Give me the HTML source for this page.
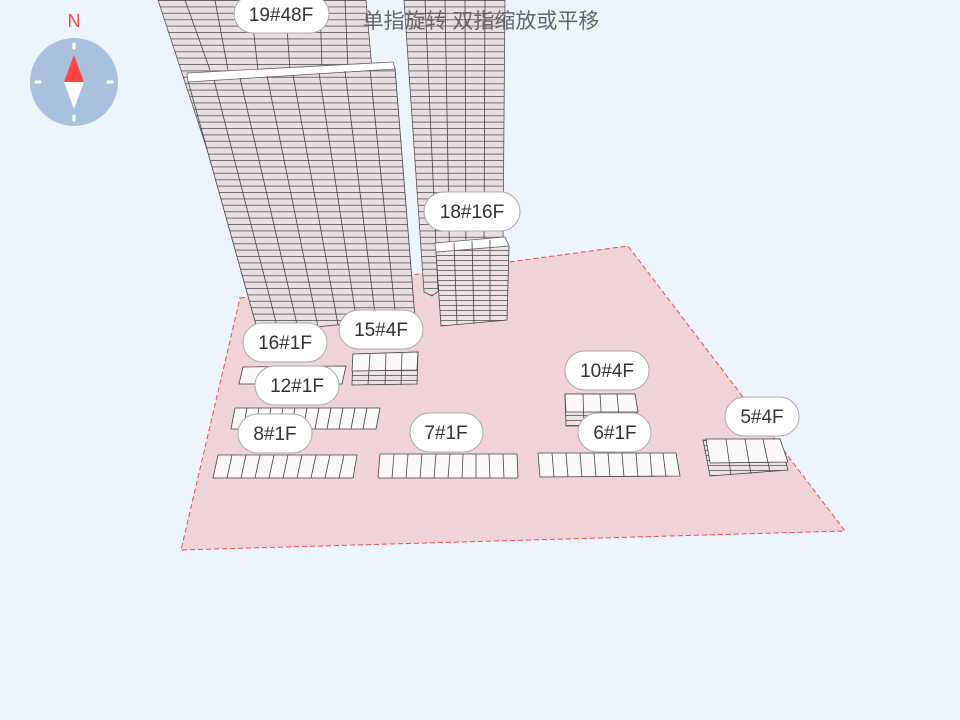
<!DOCTYPE html>
<html><head><meta charset="utf-8"><style>
html,body{margin:0;padding:0;background:#ecf5fe;}
svg{display:block}
.lb rect{fill:#fff;stroke:#aaa;stroke-width:1}
.lb text{font-family:"Liberation Sans",sans-serif;font-size:19px;fill:#333;text-anchor:middle}
.b{fill:#fbf9fa;stroke:#444;stroke-width:0.8}
.c{stroke:#444;stroke-width:0.8}
</style></head><body>
<svg width="960" height="720" viewBox="0 0 960 720" xmlns="http://www.w3.org/2000/svg">
<defs>
<pattern id="fl" width="10" height="6.4" patternUnits="userSpaceOnUse">
<rect width="10" height="6.4" fill="#e9dee2"/>
<line x1="0" y1="0.5" x2="10" y2="0.5" stroke="#555" stroke-width="0.8"/>
</pattern>
<pattern id="fs" width="10" height="5" patternUnits="userSpaceOnUse">
<rect width="10" height="5" fill="#ece3e6"/>
<line x1="0" y1="0.5" x2="10" y2="0.5" stroke="#555" stroke-width="0.8"/>
</pattern>
</defs>
<rect width="960" height="720" fill="#ecf5fe"/>
<polygon points="240,298 628,246 845,531 181,550" fill="#efd3d9" stroke="#f04a4a" stroke-width="1" stroke-dasharray="5,3"/>
<!-- right tower -->
<polygon points="404,0 505,0 503,240 432,296 424,292" fill="url(#fl)" stroke="#555" stroke-width="0.8"/>
<g class="c"><line x1="425" y1="0" x2="438" y2="290"/><line x1="445" y1="0" x2="450" y2="280"/><line x1="465" y1="0" x2="466" y2="260"/><line x1="485" y1="0" x2="484" y2="250"/></g>
<!-- back tower 19 -->
<polygon points="158,0 366,0 372,70 260,330 240,250" fill="url(#fl)" stroke="#555" stroke-width="0.8"/>
<g class="c"><line x1="185" y1="0" x2="210" y2="70"/><line x1="215" y1="0" x2="228" y2="70"/><line x1="250" y1="0" x2="258" y2="70"/><line x1="285" y1="0" x2="290" y2="70"/><line x1="320" y1="0" x2="322" y2="70"/><line x1="345" y1="0" x2="348" y2="70"/></g>
<!-- front tower -->
<polygon points="188,81 395,68 415,318 258,332" fill="url(#fl)" stroke="#444" stroke-width="0.8"/>
<polygon points="187,73 393,62 395,69 188,82" fill="#fff" stroke="#666" stroke-width="0.8"/>
<g class="c">
<line x1="214" y1="80" x2="278" y2="330"/><line x1="240" y1="78" x2="298" y2="329"/><line x1="267" y1="76" x2="318" y2="327"/><line x1="293" y1="75" x2="338" y2="325"/><line x1="319" y1="73" x2="357" y2="324"/><line x1="345" y1="71" x2="376" y2="322"/><line x1="370" y1="70" x2="396" y2="320"/>
</g>
<!-- 18# -->
<polygon points="436,252 509,246 507,320 441,326" fill="url(#fs)" stroke="#444" stroke-width="0.8"/>
<polygon points="435,243 505,237 509,246 436,252" fill="#fff" stroke="#666" stroke-width="0.8"/>
<g class="c"><line x1="454" y1="243" x2="457" y2="324"/><line x1="472" y1="241" x2="474" y2="323"/><line x1="490" y1="240" x2="490" y2="321"/></g>
<!-- 16# -->
<polygon points="243,367 346,366 342,384 239,384" class="b"/>
<!-- 15# -->
<polygon points="353,354 418,352 417,384 352,385" fill="url(#fs)" stroke="#444" stroke-width="0.8"/>
<polygon points="353,354 418,352 417,370 352,371" fill="#fbf9fa" stroke="#444" stroke-width="0.8"/>
<g class="c"><line x1="370" y1="354" x2="368" y2="385"/><line x1="386" y1="353" x2="385" y2="385"/><line x1="402" y1="353" x2="401" y2="385"/></g>
<!-- 12# -->
<polygon points="235,408 380,408 376,429 231,429" class="b"/>
<g class="c"><line x1="247" y1="408" x2="243" y2="429"/><line x1="259" y1="408" x2="255" y2="429"/><line x1="271" y1="408" x2="267" y2="429"/><line x1="283" y1="408" x2="279" y2="429"/><line x1="295" y1="408" x2="291" y2="429"/><line x1="307" y1="408" x2="303" y2="429"/><line x1="319" y1="408" x2="315" y2="429"/><line x1="331" y1="408" x2="327" y2="429"/><line x1="343" y1="408" x2="339" y2="429"/><line x1="355" y1="408" x2="351" y2="429"/><line x1="367" y1="408" x2="363" y2="429"/></g>
<!-- 8# -->
<polygon points="218,455 357,455 353,478 213,478" class="b"/>
<g class="c"><line x1="232" y1="455" x2="227" y2="478"/><line x1="246" y1="455" x2="241" y2="478"/><line x1="260" y1="455" x2="255" y2="478"/><line x1="274" y1="455" x2="269" y2="478"/><line x1="288" y1="455" x2="283" y2="478"/><line x1="302" y1="455" x2="297" y2="478"/><line x1="316" y1="455" x2="311" y2="478"/><line x1="330" y1="455" x2="325" y2="478"/><line x1="344" y1="455" x2="339" y2="478"/></g>
<!-- 7# -->
<polygon points="380,454 517,454 518,478 378,478" class="b"/>
<g class="c"><line x1="394" y1="454" x2="392" y2="478"/><line x1="408" y1="454" x2="406" y2="478"/><line x1="422" y1="454" x2="420" y2="478"/><line x1="436" y1="454" x2="434" y2="478"/><line x1="450" y1="454" x2="448" y2="478"/><line x1="463" y1="454" x2="462" y2="478"/><line x1="476" y1="454" x2="476" y2="478"/><line x1="489" y1="454" x2="490" y2="478"/><line x1="503" y1="454" x2="504" y2="478"/></g>
<!-- 10# -->
<polygon points="565,394 635,394 638,426 566,426" fill="url(#fs)" stroke="#444" stroke-width="0.8"/>
<polygon points="565,394 635,394 638,412 566,412" class="b"/>
<g class="c"><line x1="583" y1="394" x2="584" y2="426"/><line x1="600" y1="394" x2="602" y2="426"/><line x1="617" y1="394" x2="620" y2="426"/></g>
<!-- 6# -->
<polygon points="538,453 676,453 680,476 540,477" class="b"/>
<g class="c"><line x1="552" y1="453" x2="554" y2="477"/><line x1="566" y1="453" x2="568" y2="477"/><line x1="580" y1="453" x2="582" y2="477"/><line x1="594" y1="453" x2="596" y2="477"/><line x1="608" y1="453" x2="610" y2="477"/><line x1="622" y1="453" x2="624" y2="477"/><line x1="636" y1="453" x2="638" y2="477"/><line x1="650" y1="453" x2="652" y2="477"/><line x1="663" y1="453" x2="666" y2="477"/></g>
<!-- 5# -->
<polygon points="703,440 780,439 788,470 710,476" fill="url(#fs)" stroke="#444" stroke-width="0.8"/>
<polygon points="706,439 780,439 788,462 710,463" class="b"/>
<g class="c"><line x1="726" y1="439" x2="731" y2="475"/><line x1="745" y1="439" x2="751" y2="474"/><line x1="763" y1="439" x2="770" y2="472"/></g>
<!-- labels -->
<g class="lb">
<rect x="234" y="-5" width="95" height="38" rx="19"/><text x="281" y="21">19#48F</text>
<rect x="424" y="192" width="96" height="39" rx="19.5"/><text x="472" y="218">18#16F</text>
<rect x="243" y="323" width="84" height="39" rx="19.5"/><text x="285" y="349">16#1F</text>
<rect x="339" y="310" width="84" height="39" rx="19.5"/><text x="381" y="336">15#4F</text>
<rect x="255" y="366" width="84" height="39" rx="19.5"/><text x="297" y="392">12#1F</text>
<rect x="238" y="414" width="74" height="39" rx="19.5"/><text x="275" y="440">8#1F</text>
<rect x="410" y="413" width="73" height="39" rx="19.5"/><text x="446" y="439">7#1F</text>
<rect x="565" y="351" width="84" height="39" rx="19.5"/><text x="607" y="377">10#4F</text>
<rect x="578" y="413" width="73" height="39" rx="19.5"/><text x="615" y="439">6#1F</text>
<rect x="725" y="397" width="74" height="39" rx="19.5"/><text x="762" y="423">5#4F</text>
</g>
<text x="481" y="28" font-family="Liberation Sans,'Noto Sans CJK SC',sans-serif" font-size="21" fill="#666" text-anchor="middle">单指旋转 双指缩放或平移</text>
<!-- compass -->
<text x="74" y="27" font-family="Liberation Sans,sans-serif" font-size="18" fill="#f44" text-anchor="middle">N</text>
<circle cx="74" cy="82" r="44" fill="#a9c0de"/>
<g stroke="#fff" stroke-width="3" stroke-linecap="round"><line x1="74" y1="44" x2="74" y2="48"/><line x1="74" y1="116" x2="74" y2="120"/><line x1="36" y1="82" x2="40" y2="82"/><line x1="108" y1="82" x2="112" y2="82"/></g>
<polygon points="74,55 64,82 84,82" fill="#f44"/>
<polygon points="64,82 84,82 74,109" fill="#fff"/>
</svg>
</body></html>
